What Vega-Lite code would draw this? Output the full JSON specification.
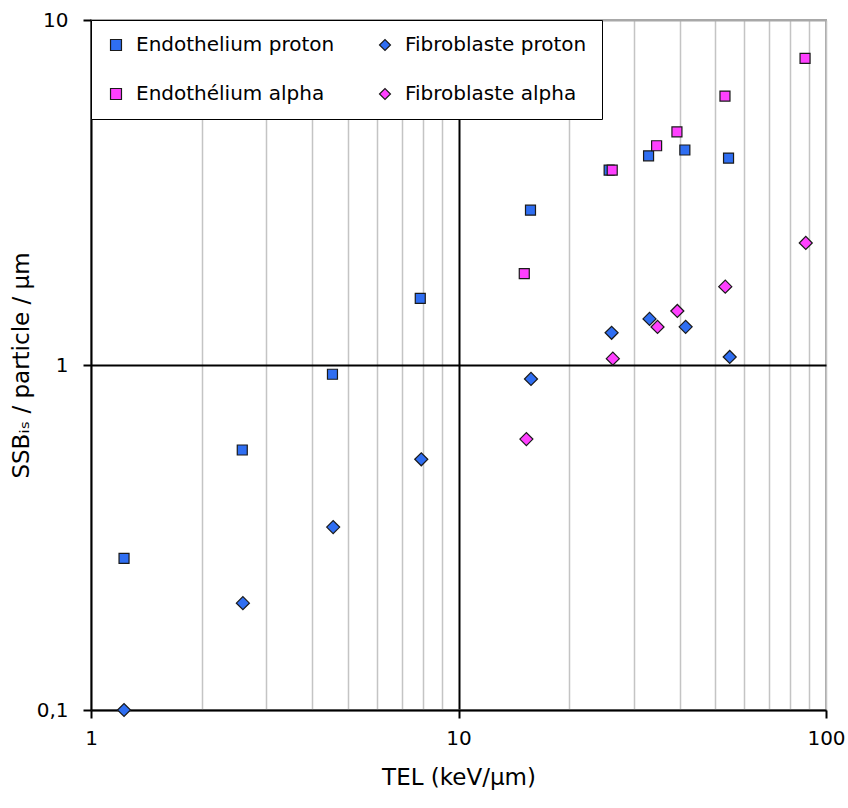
{
  "$schema": "https://vega.github.io/schema/vega-lite/v6.json",
  "autosize": {"type": "none"},
  "width": 735,
  "height": 690,
  "padding": {"left": 91, "top": 20, "right": 22, "bottom": 98},
  "background": "white",
  "config": {
    "view": {"stroke": "#a8a8a8", "strokeWidth": 2},
    "font": "DejaVu Sans"
  },
  "data": {
    "values": [
      {"series": "Endothelium proton", "tel": 1.23, "ssb": 0.275},
      {"series": "Endothelium proton", "tel": 2.58, "ssb": 0.567},
      {"series": "Endothelium proton", "tel": 4.54, "ssb": 0.94},
      {"series": "Endothelium proton", "tel": 7.87, "ssb": 1.56},
      {"series": "Endothelium proton", "tel": 15.7, "ssb": 2.81},
      {"series": "Endothelium proton", "tel": 25.7, "ssb": 3.67},
      {"series": "Endothelium proton", "tel": 32.9, "ssb": 4.04},
      {"series": "Endothelium proton", "tel": 41.3, "ssb": 4.2},
      {"series": "Endothelium proton", "tel": 54.3, "ssb": 3.98},
      {"series": "Fibroblaste proton", "tel": 1.23, "ssb": 0.1},
      {"series": "Fibroblaste proton", "tel": 2.59, "ssb": 0.204},
      {"series": "Fibroblaste proton", "tel": 4.56, "ssb": 0.339},
      {"series": "Fibroblaste proton", "tel": 7.92, "ssb": 0.533},
      {"series": "Fibroblaste proton", "tel": 15.75, "ssb": 0.911},
      {"series": "Fibroblaste proton", "tel": 26.1, "ssb": 1.24},
      {"series": "Fibroblaste proton", "tel": 33.1, "ssb": 1.36},
      {"series": "Fibroblaste proton", "tel": 41.5, "ssb": 1.29},
      {"series": "Fibroblaste proton", "tel": 54.7, "ssb": 1.055},
      {"series": "Endothélium alpha", "tel": 15.1, "ssb": 1.84},
      {"series": "Endothélium alpha", "tel": 26.2, "ssb": 3.67},
      {"series": "Endothélium alpha", "tel": 34.6, "ssb": 4.32},
      {"series": "Endothélium alpha", "tel": 39.3, "ssb": 4.74},
      {"series": "Endothélium alpha", "tel": 53.1, "ssb": 6.02},
      {"series": "Endothélium alpha", "tel": 87.7, "ssb": 7.74},
      {"series": "Fibroblaste alpha", "tel": 15.3, "ssb": 0.61},
      {"series": "Fibroblaste alpha", "tel": 26.3, "ssb": 1.043},
      {"series": "Fibroblaste alpha", "tel": 34.8, "ssb": 1.289},
      {"series": "Fibroblaste alpha", "tel": 39.4, "ssb": 1.434},
      {"series": "Fibroblaste alpha", "tel": 53.2, "ssb": 1.687},
      {"series": "Fibroblaste alpha", "tel": 88.1, "ssb": 2.258}
    ]
  },
  "encoding": {
    "x": {
      "field": "tel", "type": "quantitative",
      "scale": {"type": "log", "domain": [1, 100], "nice": false},
      "axis": {
        "title": "TEL (keV/µm)",
        "values": [1, 2, 3, 4, 5, 6, 7, 8, 9, 10, 20, 30, 40, 50, 60, 70, 80, 90, 100],
        "labelExpr": "datum.value == 1 || datum.value == 10 || datum.value == 100 ? format(datum.value, 'd') : ''",
        "labelOverlap": false,
        "labelFlush": false,
        "labelFontSize": 20,
        "labelColor": "#000000",
        "labelPadding": 10,
        "labelFont": "DejaVu Sans",
        "titleFont": "DejaVu Sans",
        "titleFontSize": 23,
        "titleFontWeight": "normal",
        "titleColor": "#000000",
        "titlePadding": 18,
        "domainColor": "#000000",
        "domainWidth": 2,
        "tickColor": "#000000",
        "tickWidth": 2,
        "tickSize": 8,
        "tickOpacity": {"condition": {"test": "datum.value == 1 || datum.value == 10 || datum.value == 100", "value": 1}, "value": 0},
        "grid": true,
        "gridColor": {"condition": {"test": "datum.value == 10", "value": "#000000"}, "value": "#c4c4c4"},
        "gridWidth": {"condition": {"test": "datum.value == 10", "value": 2}, "value": 1.5},
        "gridOpacity": 1
      }
    },
    "y": {
      "field": "ssb", "type": "quantitative",
      "scale": {"type": "log", "domain": [0.1, 10], "nice": false},
      "axis": {
        "title": "SSBᵢₛ / particle / µm",
        "values": [0.1, 1, 10],
        "labelExpr": "datum.value < 0.5 ? '0,1' : format(datum.value, 'd')",
        "labelOverlap": false,
        "labelFlush": false,
        "labelFontSize": 20,
        "labelColor": "#000000",
        "labelPadding": 15,
        "labelFont": "DejaVu Sans",
        "titleFont": "DejaVu Sans",
        "titleFontSize": 23,
        "titleFontWeight": "normal",
        "titleColor": "#000000",
        "titlePadding": 3,
        "domainColor": "#000000",
        "domainWidth": 2,
        "tickColor": "#000000",
        "tickWidth": 2,
        "tickSize": 8,
        "grid": true,
        "gridColor": {"condition": {"test": "datum.value == 1", "value": "#000000"}, "value": "#a8a8a8"},
        "gridWidth": 2,
        "gridOpacity": 1
      }
    },
    "color": {
      "field": "series", "type": "nominal",
      "scale": {
        "domain": ["Endothelium proton", "Endothélium alpha", "Fibroblaste proton", "Fibroblaste alpha"],
        "range": ["#2f6ef2", "#ff40ff", "#2f6ef2", "#ff40ff"]
      },
      "legend": {
        "title": null,
        "orient": "none",
        "legendX": 0,
        "legendY": 0,
        "columns": 2,
        "gridAlign": "all",
        "columnPadding": 40,
        "rowPadding": 29,
        "padding": 15,
        "fillColor": "#ffffff",
        "strokeColor": "#000000",
        "labelFont": "DejaVu Sans",
        "labelFontSize": 20,
        "labelLimit": 400,
        "labelColor": "#000000",
        "labelOffset": 10,
        "symbolSize": 120,
        "symbolStrokeColor": "#1a1a1a",
        "symbolStrokeWidth": 1.2,
        "symbolOpacity": 1
      }
    },
    "shape": {
      "field": "series", "type": "nominal",
      "scale": {
        "domain": ["Endothelium proton", "Endothélium alpha", "Fibroblaste proton", "Fibroblaste alpha"],
        "range": ["square", "square", "diamond", "diamond"]
      }
    }
  },
  "layer": [
    {
      "transform": [{"filter": "indexof(datum.series, 'Endoth') == 0"}],
      "mark": {"type": "point", "filled": true, "opacity": 1, "stroke": "#1a1a1a", "strokeWidth": 1.2, "size": 100}
    },
    {
      "transform": [{"filter": "indexof(datum.series, 'Fibro') == 0"}],
      "mark": {"type": "point", "filled": true, "opacity": 1, "stroke": "#1a1a1a", "strokeWidth": 1.2, "size": 170}
    }
  ]
}
